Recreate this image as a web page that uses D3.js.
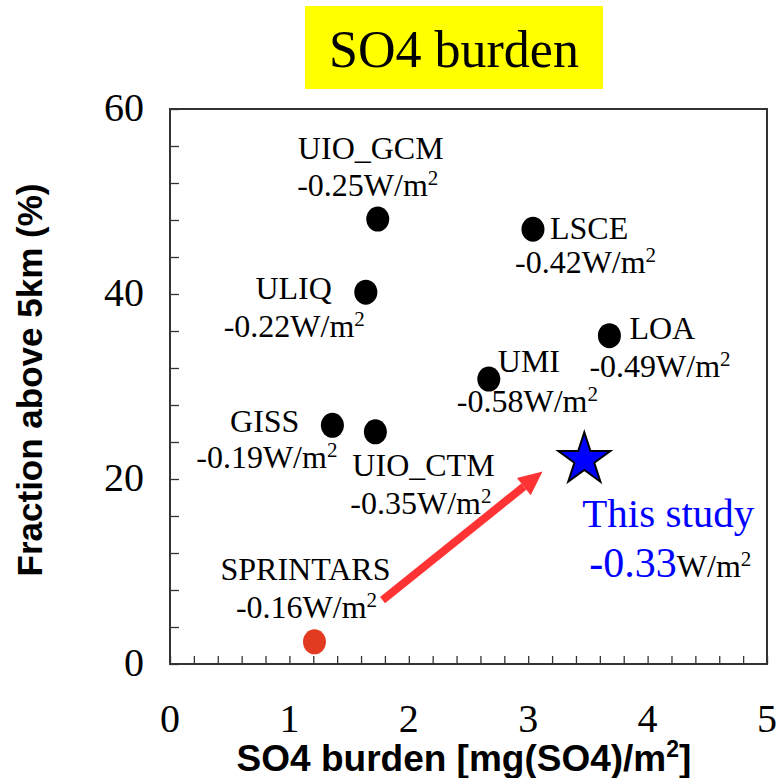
<!DOCTYPE html>
<html>
<head>
<meta charset="utf-8">
<script src="https://cdn.jsdelivr.net/npm/d3@7"></script>
<style>
  body { margin: 0; background: #fff; }
</style>
</head>
<body>
<svg id="chart" width="779" height="778"></svg>
<script>
// Model results: SO4 burden vs fraction of it above 5km, with forcing
var models = ["UIO_GCM", "LSCE", "ULIQ", "LOA", "UMI", "GISS", "UIO_CTM", "SPRINTARS"];
var burden = [1.74, 3.04, 1.64, 3.68, 2.67, 1.36, 1.72, 1.21];
var fraction = [48.1, 47.0, 40.2, 35.5, 30.8, 25.8, 25.1, 2.4];
var forcing = ["-0.25", "-0.42", "-0.22", "-0.49", "-0.58", "-0.19", "-0.35", "-0.16"];

// "This study" result (the star)
var studyBurden = [3.47];
var studyFraction = [22.1];
var studyForcing = ["-0.33"];

// arrow from old SPRINTARS to this study, in data units
var arrowFrom = [1.78, 6.9];
var arrowTo = [3.12, 20.8];

var xTickLabels = [0, 1, 2, 3, 4, 5];
var yTickLabels = [0, 20, 40, 60];

/* label placement, pixel offsets from each dot: anchor, name dx/dy, forcing dx/dy */
var labelLayout = {
  UIO_GCM:   ["middle", -7, -60, -10, -23],
  LSCE:      ["start", 17, 10, -18, 44],
  ULIQ:      ["end", -34, 7, -1, 45],
  LOA:       ["start", 20, 3, -20, 41],
  UMI:       ["start", 9, -7, -32, 33],
  GISS:      ["end", -33, 7, 5, 43],
  UIO_CTM:   ["start", -23, 44, -25, 82],
  SPRINTARS: ["middle", -9, -62, -8, -24]
};

var serif = "'Liberation Serif', 'Times New Roman', serif";
var sans = "'Liberation Sans', Arial, sans-serif";

var svg = d3.select("#chart");

var x = d3.scaleLinear().domain([0, 5]).range([170, 767]);
var y = d3.scaleLinear().domain([0, 60]).range([664, 109]);

// Title in yellow box
svg.append("rect")
  .attr("x", 305).attr("y", 6)
  .attr("width", 298).attr("height", 83)
  .attr("fill", "#ffff00");
svg.append("text")
  .attr("x", 454).attr("y", 67)
  .attr("text-anchor", "middle")
  .attr("font-family", serif)
  .attr("font-size", 52)
  .text("SO4 burden");

// Axes: inward minor ticks, labels drawn separately
var gx = svg.append("g")
  .attr("transform", "translate(0," + y(0) + ")")
  .call(d3.axisTop(x).tickValues(d3.range(0, 5.01, 0.2)).tickSize(8).tickFormat(""));
var gy = svg.append("g")
  .attr("transform", "translate(" + x(0) + ",0)")
  .call(d3.axisRight(y).tickValues(d3.range(0, 60.1, 4)).tickSize(9).tickFormat(""));
[gx, gy].forEach(function(g) {
  g.select(".domain").remove();
  g.selectAll("line").attr("stroke", "#333").attr("stroke-width", 1.3);
});

// frame
svg.append("rect")
  .attr("x", x(0)).attr("y", y(60))
  .attr("width", x(5) - x(0)).attr("height", y(0) - y(60))
  .attr("fill", "none")
  .attr("stroke", "#333")
  .attr("stroke-width", 2);

svg.selectAll(".xlab").data(xTickLabels).enter().append("text")
  .attr("class", "xlab")
  .attr("x", function(d) { return x(d); })
  .attr("y", y(0) + 68)
  .attr("text-anchor", "middle")
  .attr("font-family", serif)
  .attr("font-size", 40)
  .text(function(d) { return d; });

svg.selectAll(".ylab").data(yTickLabels).enter().append("text")
  .attr("class", "ylab")
  .attr("x", x(0) - 26)
  .attr("y", function(d) { return y(d) + 12; })
  .attr("text-anchor", "end")
  .attr("font-family", serif)
  .attr("font-size", 40)
  .text(function(d) { return d; });

// axis titles
var xt = svg.append("text")
  .attr("x", 464).attr("y", 771)
  .attr("text-anchor", "middle")
  .attr("font-family", sans)
  .attr("font-weight", "bold")
  .attr("font-size", 37);
xt.append("tspan").text("SO4 burden [mg(SO4)/m");
xt.append("tspan").attr("font-size", 23).attr("dy", -14).text("2");
xt.append("tspan").attr("dy", 14).text("]");

svg.append("text")
  .attr("transform", "translate(42,380) rotate(-90)")
  .attr("text-anchor", "middle")
  .attr("font-family", sans)
  .attr("font-weight", "bold")
  .attr("font-size", 35)
  .text("Fraction above 5km (%)");

// arrow
var ax0 = x(arrowFrom[0]), ay0 = y(arrowFrom[1]);
var ax1 = x(arrowTo[0]), ay1 = y(arrowTo[1]);
var ang = Math.atan2(ay1 - ay0, ax1 - ax0);
var headLen = 24, headW = 11;
var bx = ax1 - headLen * Math.cos(ang), by = ay1 - headLen * Math.sin(ang);
svg.append("line")
  .attr("x1", ax0).attr("y1", ay0)
  .attr("x2", bx).attr("y2", by)
  .attr("stroke", "#ff3333")
  .attr("stroke-width", 8);
svg.append("polygon")
  .attr("points", [
    [ax1, ay1],
    [bx + headW * Math.sin(ang), by - headW * Math.cos(ang)],
    [bx - headW * Math.sin(ang), by + headW * Math.cos(ang)]
  ].map(function(p) { return p.join(","); }).join(" "))
  .attr("fill", "#ff3333");

// model dots
svg.selectAll(".dot").data(models).enter().append("ellipse")
  .attr("class", "dot")
  .attr("cx", function(d, i) { return x(burden[i]); })
  .attr("cy", function(d, i) { return y(fraction[i]); })
  .attr("rx", 11.5)
  .attr("ry", 12.5)
  .attr("fill", function(d) { return d === "SPRINTARS" ? "#e23b22" : "#000"; });

// labels: model name + forcing line with W/m2
models.forEach(function(m, i) {
  var L = labelLayout[m];
  var px = x(burden[i]), py = y(fraction[i]);
  svg.append("text")
    .attr("x", px + L[1]).attr("y", py + L[2])
    .attr("text-anchor", L[0])
    .attr("font-family", serif)
    .attr("font-size", 32)
    .text(m);
  var t = svg.append("text")
    .attr("x", px + L[3]).attr("y", py + L[4])
    .attr("text-anchor", L[0])
    .attr("font-family", serif)
    .attr("font-size", 32);
  t.append("tspan").text(forcing[i] + "W/m");
  t.append("tspan").attr("font-size", 21).attr("dy", -11).text("2");
});

// star for this study
var star = d3.symbol().type(d3.symbolStar).size(840);
svg.append("path")
  .attr("d", star)
  .attr("transform", "translate(" + x(studyBurden[0]) + "," + y(studyFraction[0]) + ")")
  .attr("fill", "#0000ff")
  .attr("stroke", "#000")
  .attr("stroke-width", 2);

var sx = x(studyBurden[0]), sy = y(studyFraction[0]);
svg.append("text")
  .attr("x", sx - 2).attr("y", sy + 67)
  .attr("font-family", serif)
  .attr("font-size", 41)
  .attr("fill", "#0000ff")
  .text("This study");
var st = svg.append("text")
  .attr("x", sx + 5).attr("y", sy + 117)
  .attr("font-family", serif)
  .attr("font-size", 32);
st.append("tspan").attr("font-size", 42).attr("fill", "#0000ff").text(studyForcing[0]);
st.append("tspan").text("W/m");
st.append("tspan").attr("font-size", 21).attr("dy", -11).text("2");
</script>
</body>
</html>
